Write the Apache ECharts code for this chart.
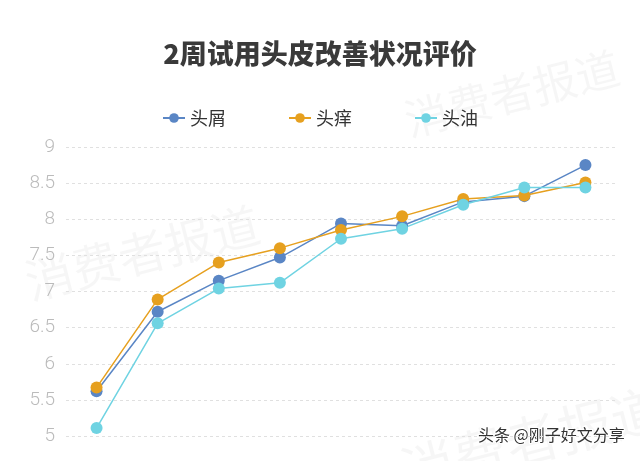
<!DOCTYPE html>
<html><head><meta charset="utf-8">
<script src="https://cdn.jsdelivr.net/npm/echarts@6/dist/echarts.min.js"></script>
<style>html,body{margin:0;padding:0;background:#fff}#c{width:640px;height:461px}</style>
</head><body><div id="c"></div>
<script>
var categories = ['1','2','3','4','5','6','7','8','9'];
var dandruff = [5.62, 6.72, 7.15, 7.47, 7.94, 7.91, 8.24, 8.32, 8.75];
var itch     = [5.67, 6.89, 7.40, 7.60, 7.85, 8.04, 8.28, 8.33, 8.51];
var oil      = [5.11, 6.56, 7.04, 7.12, 7.73, 7.87, 8.20, 8.44, 8.44];
var seriesNames = ['头屑', '头痒', '头油'];
var yTicks = {min: 5, max: 9, interval: 0.5};

var chart = echarts.init(document.getElementById('c'));
var colors = ['#5a86c5', '#e6a01f', '#6fd3e2'];
function mk(name, data, i) {
  return {
    name: name, type: 'line', data: data,
    symbol: 'circle', symbolSize: 12,
    lineStyle: {width: 1.5, color: colors[i]},
    itemStyle: {color: colors[i]},
    emphasis: {disabled: true}
  };
}
chart.setOption({
  animation: false,
  color: colors,
  title: {
    text: '2周试用头皮改善状况评价', left: 'center', top: 35,
    textStyle: {fontFamily: 'Noto Sans CJK SC', fontWeight: 900, fontSize: 27, color: '#3a3a3a'}
  },
  legend: {
    top: 104, left: 'center', itemGap: 62, itemWidth: 22, itemHeight: 12,
    textStyle: {fontFamily: 'Noto Sans CJK SC', fontSize: 18, color: '#333'},
    data: seriesNames
  },
  grid: {left: 66, right: 24, top: 147, bottom: 25, containLabel: false},
  xAxis: {
    type: 'category', data: categories, boundaryGap: true,
    axisLine: {show: false}, axisTick: {show: false}, axisLabel: {show: false}
  },
  yAxis: {
    type: 'value', min: yTicks.min, max: yTicks.max, interval: yTicks.interval,
    axisLine: {show: false}, axisTick: {show: false},
    axisLabel: {fontFamily: 'Roboto', fontWeight: 300, fontSize: 19, color: '#bbbbbb', margin: 11},
    splitLine: {lineStyle: {type: [3, 3], color: '#e0e0e0', width: 1}}
  },
  graphic: [
    {type: 'text', left: 20, top: 200, rotation: 0.25, z: -1, silent: true,
     style: {text: '消费者报道', font: '400 48px "Noto Sans CJK SC"', fill: 'rgba(0,0,0,0.035)'}},
    {type: 'text', left: 400, top: 45, rotation: 0.25, z: -1, silent: true,
     style: {text: '消费者报道', font: '400 44px "Noto Sans CJK SC"', fill: 'rgba(0,0,0,0.035)'}},
    {type: 'text', left: 395, top: 380, rotation: 0.25, z: -1, silent: true,
     style: {text: '消费者报道', font: '400 54px "Noto Sans CJK SC"', fill: 'rgba(0,0,0,0.035)'}},
    {type: 'text', left: 477, top: 426, silent: true,
     style: {text: '头条 @刚子好文分享', font: '16px "Noto Sans CJK SC"', fill: '#333', stroke: '#fff', lineWidth: 2}}
  ],
  series: [mk(seriesNames[0], dandruff, 0), mk(seriesNames[1], itch, 1), mk(seriesNames[2], oil, 2)]
});
</script></body></html>
